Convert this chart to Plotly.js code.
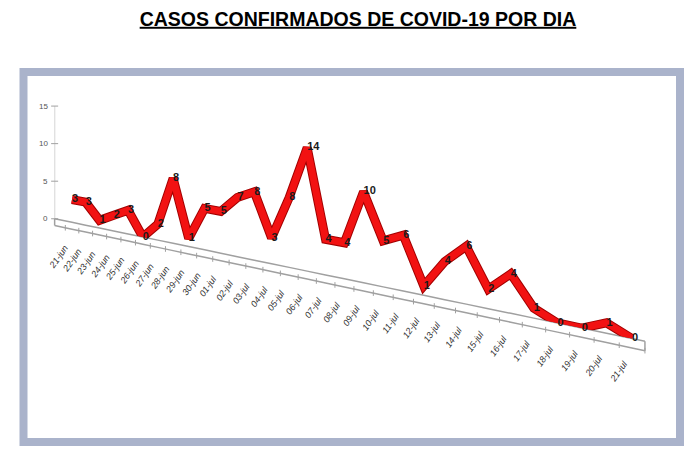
<!DOCTYPE html>
<html>
<head>
<meta charset="utf-8">
<script src="https://cdn.plot.ly/plotly-3.0.1.min.js"></script>
<style>
html,body{margin:0;padding:0;background:#fff;}
#chart{width:692px;height:454px;}
</style>
</head>
<body>
<div id="chart"></div>
<script>
// ---- data ----
const fechas = ["21-jun","22-jun","23-jun","24-jun","25-jun","26-jun","27-jun","28-jun","29-jun","30-jun",
  "01-jul","02-jul","03-jul","04-jul","05-jul","06-jul","07-jul","08-jul","09-jul","10-jul",
  "11-jul","12-jul","13-jul","14-jul","15-jul","16-jul","17-jul","18-jul","19-jul","20-jul","21-jul"];
const casos = [3,3,1,2,3,0,2,8,1,5,5,7,8,3,8,14,4,4,10,5,6,1,4,6,2,4,1,0,0,1,0];
const zTicks = [0,5,10,15];
const titulo = "CASOS CONFIRMADOS DE COVID-19 POR DIA";

// ---- perspective geometry (layout only, in page pixels) ----
const W = 692, H = 454;
const P = {c: 108.7, K: 159680, xv: -1397, L: 33115, yv: -82.3, s0: 7.6};
const projX = a => P.xv + P.K / (P.c - a);
const projYb = a => P.yv + P.L / (P.c - a);
const projS = a => P.s0 * P.c / (P.c - a);
const projY = (a, b) => projYb(a) - projS(a) * b;

const idx = fechas.map((_, i) => i);
const n = fechas.length;
const aStart = -1.3, aEnd = 30.5;
const aNodes = [aStart].concat(idx, [aEnd]);
const floorFront = -0.9;
const zMin = zTicks[0], zMax = zTicks[zTicks.length - 1];

function grid(nodes, bNodes) {
  return {
    x: bNodes.map(b => nodes.map(a => projX(a))),
    y: bNodes.map(b => nodes.map(a => projY(a, b)))
  };
}
const gVal = grid(aNodes, [zMin, zMax]);
const gFloor = grid(aNodes, [floorFront, 0]);

const lineGray = '#a0a0a0';
const noAxis = {showgrid: false, showticklabels: 'none', startline: false, endline: false,
  smoothing: 0, minorgridcount: 0};

const floor = {
  type: 'carpet', carpet: 'piso',
  a: aNodes, b: [floorFront, 0], x: gFloor.x, y: gFloor.y,
  aaxis: Object.assign({}, noAxis, {startline: true, endline: true, startlinecolor: lineGray,
    endlinecolor: lineGray, startlinewidth: 1.5, endlinewidth: 1.5}),
  baxis: Object.assign({}, noAxis, {startline: true, endline: true, startlinecolor: lineGray,
    endlinecolor: lineGray, startlinewidth: 1.5, endlinewidth: 1.5}),
  hoverinfo: 'none'
};

const valCarpet = {
  type: 'carpet', carpet: 'valores',
  a: aNodes, b: [zMin, zMax], x: gVal.x, y: gVal.y,
  aaxis: Object.assign({}, noAxis), baxis: Object.assign({}, noAxis),
  hoverinfo: 'none'
};

// vertical value axis (line + tick marks) drawn in carpet coordinates
const ejeZ = {
  type: 'scattercarpet', carpet: 'valores',
  a: zTicks.map(() => aStart), b: zTicks, mode: 'lines+markers',
  line: {color: lineGray, width: 1},
  marker: {symbol: 'line-ew-open', size: 5, color: lineGray, line: {color: lineGray, width: 1}},
  hoverinfo: 'none', showlegend: false
};
// category tick marks on the floor front edge
const bordes = idx.concat([n]).map(i => i - 0.5);
const ticksX = {
  type: 'scattercarpet', carpet: 'piso',
  a: bordes, b: bordes.map(() => floorFront), mode: 'markers',
  marker: {symbol: 'line-ns-open', size: 4, color: lineGray, line: {color: lineGray, width: 1}},
  hoverinfo: 'none', showlegend: false
};

const sombra = {
  type: 'scattercarpet', carpet: 'valores', a: idx, b: casos, mode: 'lines',
  line: {color: '#a30000', width: 9}, hoverinfo: 'none', showlegend: false
};
const serie = {
  type: 'scattercarpet', carpet: 'valores', a: idx, b: casos, mode: 'lines+text',
  text: casos.map(String), textposition: 'middle right',
  textfont: {family: 'Liberation Sans Narrow, Liberation Sans, Arial', size: 11, color: '#1a1a1a', weight: 'bold'},
  line: {color: '#f21212', width: 7}, hoverinfo: 'none', showlegend: false
};

const dateAnn = fechas.map((f, i) => ({
  x: projX(i) + 1, y: projY(i, floorFront) + 12 - 4 * i / (n - 1), xref: 'x', yref: 'y',
  text: f, showarrow: false, textangle: -55, xanchor: 'right', yanchor: 'top',
  font: {family: 'Liberation Sans, Arial', size: 9, color: '#333', style: 'italic'}
}));
const zAnn = zTicks.map(v => ({
  x: projX(aStart) - 5, y: projY(aStart, v), xref: 'x', yref: 'y',
  text: String(v), showarrow: false, xanchor: 'right', yanchor: 'middle',
  font: {family: 'Liberation Sans, Arial', size: 8, color: '#555'}
}));

const layout = {
  width: W, height: H,
  margin: {l: 0, r: 0, t: 0, b: 0},
  paper_bgcolor: '#ffffff', plot_bgcolor: 'rgba(0,0,0,0)',
  showlegend: false,
  title: {
    text: '<b><span style="text-decoration:underline">' + titulo + '</span></b>',
    x: 358 / W, xanchor: 'center', y: 1 - 19 / H, yanchor: 'middle',
    font: {family: 'Liberation Sans, Arial', size: 19.5, color: '#000'}
  },
  xaxis: {range: [0, W], visible: false, fixedrange: true},
  yaxis: {range: [H, 0], visible: false, fixedrange: true},
  shapes: [
    {type: 'rect', xref: 'paper', yref: 'paper', x0: 23.5 / W, x1: 680 / W, y0: 1 - 72 / H, y1: 1 - 442 / H,
     line: {color: '#aab3cb', width: 8}, fillcolor: 'rgba(0,0,0,0)', layer: 'below'}
  ],
  annotations: dateAnn.concat(zAnn)
};

Plotly.newPlot('chart', [floor, valCarpet, ejeZ, ticksX, sombra, serie], layout,
  {displayModeBar: false, staticPlot: true});
</script>
</body>
</html>
